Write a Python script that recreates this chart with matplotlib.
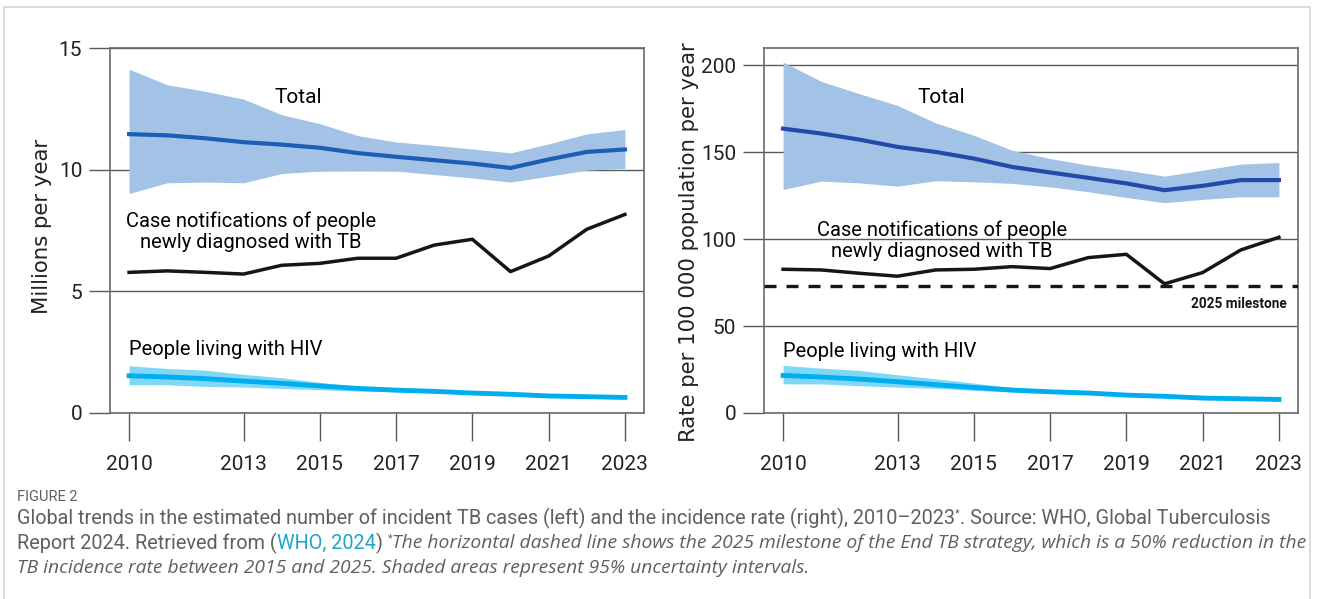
import matplotlib
matplotlib.use("Agg")
import matplotlib.pyplot as plt
from matplotlib.patches import Rectangle

years = list(range(2010, 2024))
xtick_years = [2010, 2013, 2015, 2017, 2019, 2021, 2023]

# left panel: millions per year
total_n = [11.46, 11.41, 11.29, 11.13, 11.03, 10.90, 10.68, 10.53, 10.39, 10.25, 10.07, 10.42, 10.73, 10.83]
total_n_hi = [14.13, 13.49, 13.22, 12.90, 12.26, 11.89, 11.40, 11.14, 11.00, 10.85, 10.69, 11.06, 11.47, 11.65]
total_n_lo = [9.02, 9.46, 9.49, 9.46, 9.84, 9.94, 9.97, 9.94, 9.80, 9.66, 9.49, 9.73, 9.98, 10.05]
notif_n = [5.78, 5.84, 5.78, 5.71, 6.07, 6.15, 6.36, 6.36, 6.90, 7.14, 5.81, 6.45, 7.55, 8.16]
hiv_n = [1.53, 1.48, 1.41, 1.31, 1.22, 1.11, 1.01, 0.94, 0.89, 0.82, 0.77, 0.70, 0.67, 0.64]
hiv_n_hi = [1.94, 1.83, 1.76, 1.59, 1.45, 1.26, 1.09, 1.01, 0.94, 0.87, 0.82, 0.74, 0.71, 0.68]
hiv_n_lo = [1.16, 1.16, 1.09, 1.07, 1.01, 0.96, 0.90, 0.87, 0.82, 0.77, 0.71, 0.64, 0.62, 0.59]

# right panel: rate per 100 000 population
total_r = [163.6, 160.8, 157.3, 153.1, 150.2, 146.4, 141.6, 138.4, 135.3, 132.1, 128.2, 130.7, 134.0, 134.0]
total_r_hi = [201.9, 190.8, 183.7, 177.0, 166.9, 159.8, 151.2, 146.4, 142.6, 139.7, 136.3, 139.7, 143.2, 144.1]
total_r_lo = [128.6, 133.4, 132.4, 130.5, 133.6, 133.0, 132.1, 130.1, 127.3, 124.0, 121.0, 122.9, 124.4, 124.4]
notif_r = [82.7, 82.3, 80.4, 78.7, 82.3, 82.7, 84.2, 83.1, 89.4, 91.3, 74.3, 80.8, 93.8, 101.1]
hiv_r = [21.6, 20.7, 19.5, 18.0, 16.3, 14.7, 13.2, 12.2, 11.5, 10.3, 9.6, 8.6, 8.2, 7.8]
hiv_r_hi = [27.4, 25.8, 24.5, 22.0, 19.7, 17.2, 14.7, 13.4, 12.2, 11.1, 10.1, 9.2, 8.6, 8.4]
hiv_r_lo = [16.8, 16.7, 15.7, 14.9, 14.2, 13.0, 12.1, 11.3, 10.5, 9.8, 9.0, 8.0, 7.7, 7.3]
milestone = 73.2

NARROW = ["Roboto", "DejaVu Sans"]

band_blue = "#a3c3e6"
band_cyan = "#7fd9f6"
line_cyan = "#00aeef"
grid_c = "#5a5a5a"
ink = "#1a1418"

fig = plt.figure(figsize=(13.17, 5.99), dpi=100)
fig.patches.append(Rectangle((4 / 1317, -0.01), 1306 / 1317, 1 - 7 / 599 + 0.01,
                             transform=fig.transFigure, fill=False,
                             edgecolor="#d6d6d6", lw=1.2))

ax1 = fig.add_axes([110 / 1317, 1 - 413 / 599, 534 / 1317, 365 / 599])
ax2 = fig.add_axes([764 / 1317, 1 - 413 / 599, 534 / 1317, 365 / 599])


def style(ax, yticks, ylim, ylabel):
    ax.set_xlim(2009.5, 2023.5)
    ax.set_ylim(*ylim)
    ax.set_yticks(yticks)
    ax.set_xticks(xtick_years)
    for t in yticks:
        ax.axhline(t, color=grid_c, lw=1.0, zorder=1)
    for s in ax.spines.values():
        s.set_color("#6a6a6a")
        s.set_linewidth(1.2)
    ax.tick_params(axis="y", length=15, width=1.0, color=grid_c, pad=5,
                   labelsize=15, labelcolor="#222222")
    ax.tick_params(axis="x", length=20, width=1.0, color=grid_c, pad=10,
                   labelsize=15, labelcolor="#222222")
    for lab in ax.get_xticklabels() + ax.get_yticklabels():
        lab.set_family(NARROW)
    ax.set_ylabel(ylabel, fontsize=15.3, family=["DejaVu Sans"], color="#222222")


# left panel
ax1.fill_between(years, total_n_lo, total_n_hi, color=band_blue, lw=0, zorder=2)
ax1.plot(years, total_n, color="#1a5fb4", lw=3, zorder=3)
ax1.plot(years, notif_n, color=ink, lw=2.5, zorder=3)
ax1.fill_between(years, hiv_n_lo, hiv_n_hi, color=band_cyan, lw=0, zorder=2)
ax1.plot(years, hiv_n, color=line_cyan, lw=3.5, zorder=3)
style(ax1, [0, 5, 10, 15], (0, 15), "Millions per year")
ax1.yaxis.set_label_coords(-0.108, 0.51)

ax1.text(2014.45, 12.95, "Total", ha="center", va="center", fontsize=15, family=NARROW)
ax1.text(2013.2, 7.45, "Case notifications of people\nnewly diagnosed with TB",
         ha="center", va="center", fontsize=14.5, family=NARROW, linespacing=1.1)
ax1.text(2010.0, 2.63, "People living with HIV", ha="left", va="center",
         fontsize=14.5, family=NARROW)

# right panel
ax2.fill_between(years, total_r_lo, total_r_hi, color=band_blue, lw=0, zorder=2)
ax2.plot(years, total_r, color="#2549a8", lw=3, zorder=3)
ax2.plot(years, notif_r, color=ink, lw=2.5, zorder=3)
ax2.axhline(milestone, color=ink, lw=2.4, ls=(0, (3.6, 3.0)), zorder=3)
ax2.fill_between(years, hiv_r_lo, hiv_r_hi, color=band_cyan, lw=0, zorder=2)
ax2.plot(years, hiv_r, color=line_cyan, lw=3.5, zorder=3)
style(ax2, [0, 50, 100, 150, 200], (0, 210), "Rate per 100 000 population per year")
ax2.yaxis.set_label_coords(-0.122, 0.467)

ax2.text(2014.15, 181.5, "Total", ha="center", va="center", fontsize=15, family=NARROW)
ax2.text(2014.17, 99, "Case notifications of people\nnewly diagnosed with TB",
         ha="center", va="center", fontsize=14.5, family=NARROW, linespacing=1.1)
ax2.text(2023.2, 63, "2025 milestone", ha="right", va="center", fontsize=9.8,
         fontweight="bold", family=NARROW, color=ink)
ax2.text(2010.0, 35.6, "People living with HIV", ha="left", va="center",
         fontsize=14.5, family=NARROW)

# caption
cap_c = "#5f5f5f"
cap_fs = 14.3
ital_fs = 13.9
ital_family = ["Open Sans", "DejaVu Sans"]
fig.text(17 / 1317, 1 - 497 / 599, "FIGURE 2", fontsize=10.5, color=cap_c,
         family=NARROW, va="center")

renderer = fig.canvas.get_renderer()


def runs(y_px, pieces):
    x = 17 / 1317
    for txt, kw in pieces:
        t = fig.text(x, 1 - y_px / 599, txt, fontsize=kw.get("size", cap_fs),
                     color=kw.get("color", cap_c), style=kw.get("style", "normal"),
                     family=kw.get("family", NARROW), va=kw.get("va", "center"))
        bb = t.get_window_extent(renderer=renderer)
        x += bb.width / fig.bbox.width


ital = {"style": "italic", "size": ital_fs, "family": ital_family}
runs(518, [("Global trends in the estimated number of incident TB cases (left) and the "
            "incidence rate (right), 2010\u20132023", {}),
           ("*", {"size": 8, "va": "bottom"}),
           (". Source: WHO, Global Tuberculosis", {})])
runs(543, [("Report 2024. Retrieved from (", {}),
           ("WHO, 2024", {"color": "#1aa6c9"}),
           (") ", {}),
           ("*", {"size": 8, "va": "bottom"}),
           ("The horizontal dashed line shows the 2025 milestone of the End TB strategy, "
            "which is a 50% reduction in the", ital)])
runs(568, [("TB incidence rate between 2015 and 2025. Shaded areas represent 95% "
            "uncertainty intervals.", ital)])

fig.savefig("out.png", dpi=100)
